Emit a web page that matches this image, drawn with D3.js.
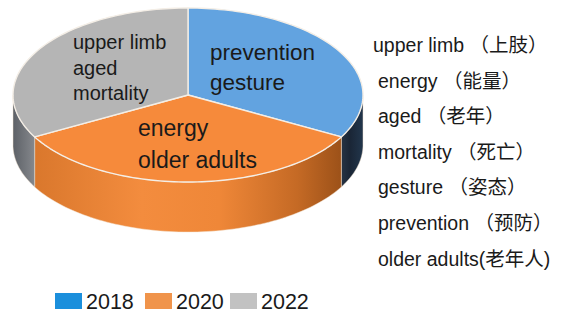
<!DOCTYPE html>
<html><head><meta charset="utf-8">
<script src="https://cdn.jsdelivr.net/npm/d3@7"></script>
<style>
html,body{margin:0;padding:0;background:#fff;}
svg{display:block;}
text{font-family:"Liberation Sans",Arial,"Noto Sans CJK SC",sans-serif;fill:#1a1a1a;}
</style></head>
<body>
<svg id="chart" width="564" height="313"></svg>
<script>
const years = ["2018", "2020", "2022"];
const shares = [33, 34, 33];
const sliceLabels = [["prevention", "gesture"], ["energy", "older adults"], ["upper limb", "aged", "mortality"]];
const keywordList = ["upper limb （上肢）", "energy （能量）", "aged （老年）", "mortality （死亡）", "gesture （姿态）", "prevention （预防）", "older adults(老年人)"];

const topColors = ["#62a3e0", "#f68a3b", "#b5b5b5"];
const legendColors = ["#1b8fdc", "#f0944b", "#c2c2c2"];

const svg = d3.select("#chart");
const cx = 188, cy = 95, rx = 175, ry = 87, depth = 50;

const pie = d3.pie().sort(null).value(d => d)
  .startAngle(0).endAngle(2 * Math.PI);
const arcs = pie(shares);

const pt = (a, dz = 0) => [cx + rx * Math.sin(a), cy - ry * Math.cos(a) + dz];

const defs = svg.append("defs");
function grad(id, x1, x2, stops) {
  const g = defs.append("linearGradient").attr("id", id)
    .attr("gradientUnits", "userSpaceOnUse")
    .attr("x1", x1).attr("x2", x2).attr("y1", 0).attr("y2", 0);
  stops.forEach(s => g.append("stop").attr("offset", s[0]).attr("stop-color", s[1]));
}
grad("sideOrange", cx - rx * 0.89, cx + rx * 0.89, [[0, "#d9772c"], [0.35, "#f38c3e"], [0.6, "#ef8738"], [0.85, "#c56a25"], [1, "#9a5018"]]);
grad("sideBlue", cx + rx * 0.85, cx + rx, [[0, "#2a3a4c"], [0.5, "#1a2636"], [1, "#22364c"]]);
grad("sideGrey", cx - rx, cx - rx * 0.85, [[0, "#5d6167"], [0.6, "#7a7d82"], [1, "#8f9194"]]);
const sideFills = ["url(#sideBlue)", "url(#sideOrange)", "url(#sideGrey)"];

const N = 80;
function arcPoints(a0, a1, dz) {
  const pts = [];
  for (let i = 0; i <= N; i++) pts.push(pt(a0 + (a1 - a0) * i / N, dz));
  return pts;
}

const gSide = svg.append("g");
arcs.forEach((d, i) => {
  const s = Math.max(d.startAngle, Math.PI / 2);
  const e = Math.min(d.endAngle, 3 * Math.PI / 2);
  if (e <= s) return;
  const p = d3.path();
  const topPts = arcPoints(s, e, 0);
  const botPts = arcPoints(s, e, depth).reverse();
  topPts.forEach((q, k) => k ? p.lineTo(q[0], q[1]) : p.moveTo(q[0], q[1]));
  botPts.forEach(q => p.lineTo(q[0], q[1]));
  p.closePath();
  gSide.append("path").attr("d", p.toString()).attr("fill", sideFills[i])
    .attr("stroke", "#f3e2cf").attr("stroke-width", 0.8).attr("stroke-opacity", 0.6);
});

const gTop = svg.append("g");
arcs.forEach((d, i) => {
  const p = d3.path();
  p.moveTo(cx, cy);
  arcPoints(d.startAngle, d.endAngle, 0).forEach(q => p.lineTo(q[0], q[1]));
  p.closePath();
  gTop.append("path").attr("d", p.toString()).attr("fill", topColors[i])
    .attr("stroke", "#f4eee6").attr("stroke-width", 1.4).attr("stroke-linejoin", "round");
});

const labelPos = [
  {x: 210, y: 60, size: 22.5, lh: 30},
  {x: 138, y: 136, size: 23, lh: 32},
  {x: 73, y: 49, size: 20, lh: 25.5}
];
sliceLabels.forEach((lines, i) => {
  const lp = labelPos[i];
  const t = svg.append("text").attr("x", lp.x).attr("y", lp.y).style("font-size", lp.size + "px");
  lines.forEach((l, k) => t.append("tspan").attr("x", lp.x).attr("y", lp.y + k * lp.lh).text(l));
});

const listX = [373, 378, 378, 378, 378, 378, 378];
svg.append("g").selectAll("text").data(keywordList).join("text")
  .attr("x", (d, i) => listX[i])
  .attr("y", (d, i) => 52 + i * 35.6)
  .style("font-size", "19.5px")
  .text(d => d);

const legX = [55, 145, 230];
const lg = svg.append("g").selectAll("g").data(years).join("g")
  .attr("transform", (d, i) => `translate(${legX[i]},293)`);
lg.append("rect").attr("width", 27).attr("height", 16).attr("fill", (d, i) => legendColors[i]);
lg.append("text").attr("x", 31).attr("y", 15.5).style("font-size", "21.5px").text(d => d);
</script>
</body></html>
